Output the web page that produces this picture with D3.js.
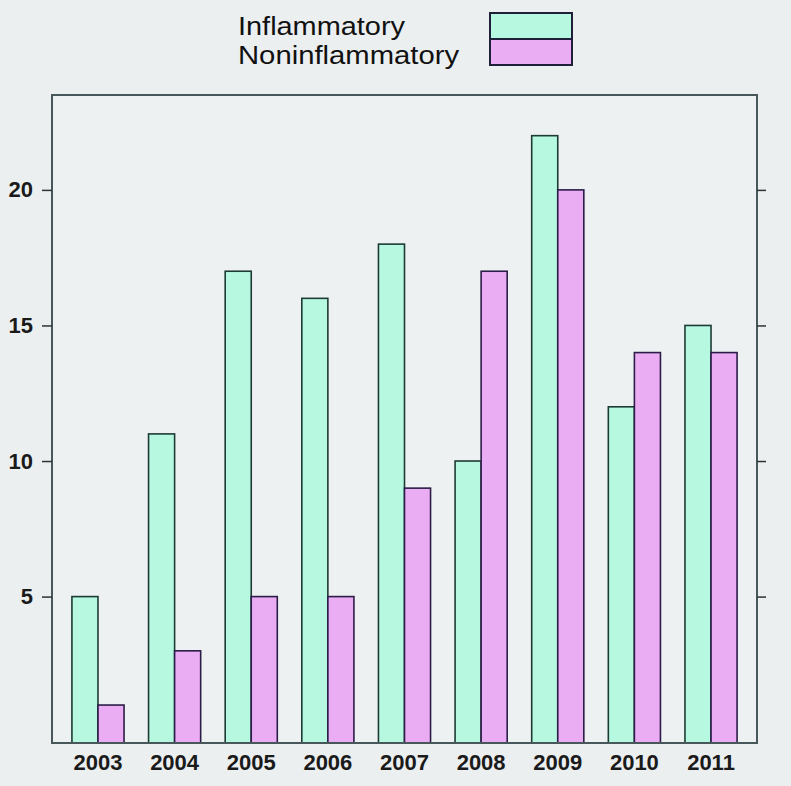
<!DOCTYPE html>
<html>
<head>
<meta charset="utf-8">
<script src="https://cdn.jsdelivr.net/npm/d3@7"></script>
<style>
  body { margin: 0; background: #eceff0; }
  svg { display: block; }
</style>
</head>
<body>
<div id="chart"></div>
<script>
// chart values
const years = ["2003", "2004", "2005", "2006", "2007", "2008", "2009", "2010", "2011"];
const inflammatory = [5, 11, 17, 16, 18, 10, 22, 12, 15];
const noninflammatory = [1, 3, 5, 5, 9, 17, 20, 14, 14];
const seriesNames = ["Inflammatory", "Noninflammatory"];
const yTicks = [5, 10, 15, 20];

const width = 791, height = 786;
const panel = { left: 52, right: 757, top: 95, bottom: 743 };
const fills = ["#b6f9e0", "#eaacf3"];
const strokes = ["#1d3b35", "#2b1d48"];

const svg = d3.select("#chart").append("svg")
    .attr("width", width)
    .attr("height", height);

svg.append("rect")
    .attr("width", width).attr("height", height)
    .attr("fill", "#eceff0");

// lattice-style scales: factor positions 1..9 in range [0.4, 9.6]
const x = d3.scaleLinear().domain([0.4, 9.6]).range([panel.left, panel.right]);
const y = d3.scaleLinear().domain([-0.4, 23.5]).range([panel.bottom, panel.top]);
const barW = 0.34;

svg.append("rect")
    .attr("x", panel.left).attr("y", panel.top)
    .attr("width", panel.right - panel.left)
    .attr("height", panel.bottom - panel.top)
    .attr("fill", "#eef1f1");

// bars
const data = years.map((yr, i) => ({ year: yr, i: i + 1, vals: [inflammatory[i], noninflammatory[i]] }));

const groups = svg.append("g").selectAll("g")
    .data(data)
    .enter().append("g");

groups.selectAll("rect")
    .data(d => d.vals.map((v, k) => ({ v, k, i: d.i })))
    .enter().append("rect")
    .attr("x", d => x(d.i - barW + d.k * barW))
    .attr("y", d => y(d.v))
    .attr("width", d => x(d.i + barW) - x(d.i))
    .attr("height", d => panel.bottom - y(d.v))
    .attr("fill", d => fills[d.k])
    .attr("stroke", d => strokes[d.k])
    .attr("stroke-width", 1.6);

// panel frame
svg.append("rect")
    .attr("x", panel.left).attr("y", panel.top)
    .attr("width", panel.right - panel.left)
    .attr("height", panel.bottom - panel.top)
    .attr("fill", "none")
    .attr("stroke", "#48575a")
    .attr("stroke-width", 2);

// left axis with ticks and labels
const leftAxis = svg.append("g")
    .attr("transform", `translate(${panel.left},0)`)
    .call(d3.axisLeft(y).tickValues(yTicks).tickSize(10).tickPadding(9).tickFormat(d3.format("d")));
leftAxis.select(".domain").remove();
leftAxis.selectAll("line").attr("stroke", "#2b3535").attr("stroke-width", 1.5);
leftAxis.selectAll("text")
    .attr("fill", "#1a1a1a")
    .style("font-family", "Liberation Sans, Arial, sans-serif")
    .style("font-size", "22px")
    .style("font-weight", "bold");

// right axis: ticks only
const rightAxis = svg.append("g")
    .attr("transform", `translate(${panel.right},0)`)
    .call(d3.axisRight(y).tickValues(yTicks).tickSize(9).tickFormat(""));
rightAxis.select(".domain").remove();
rightAxis.selectAll("line").attr("stroke", "#2b3535").attr("stroke-width", 1.5);

// bottom labels
svg.append("g").selectAll("text")
    .data(data)
    .enter().append("text")
    .attr("x", d => x(d.i))
    .attr("y", 770)
    .attr("text-anchor", "middle")
    .attr("fill", "#1a1a1a")
    .style("font-family", "Liberation Sans, Arial, sans-serif")
    .style("font-size", "22px")
    .style("font-weight", "bold")
    .text(d => d.year);

// legend
const legendWidths = [167, 221];
const legend = svg.append("g");
seriesNames.forEach((name, k) => {
    legend.append("text")
        .attr("x", 238)
        .attr("y", 35 + k * 29)
        .attr("fill", "#111")
        .attr("textLength", legendWidths[k])
        .attr("lengthAdjust", "spacingAndGlyphs")
        .style("font-family", "Liberation Sans, Arial, sans-serif")
        .style("font-size", "25px")
        .text(name);
    legend.append("rect")
        .attr("x", 490)
        .attr("y", 13 + k * 26)
        .attr("width", 82)
        .attr("height", 26)
        .attr("fill", fills[k])
        .attr("stroke", "#1f1f3a")
        .attr("stroke-width", 2);
});
</script>
</body>
</html>
